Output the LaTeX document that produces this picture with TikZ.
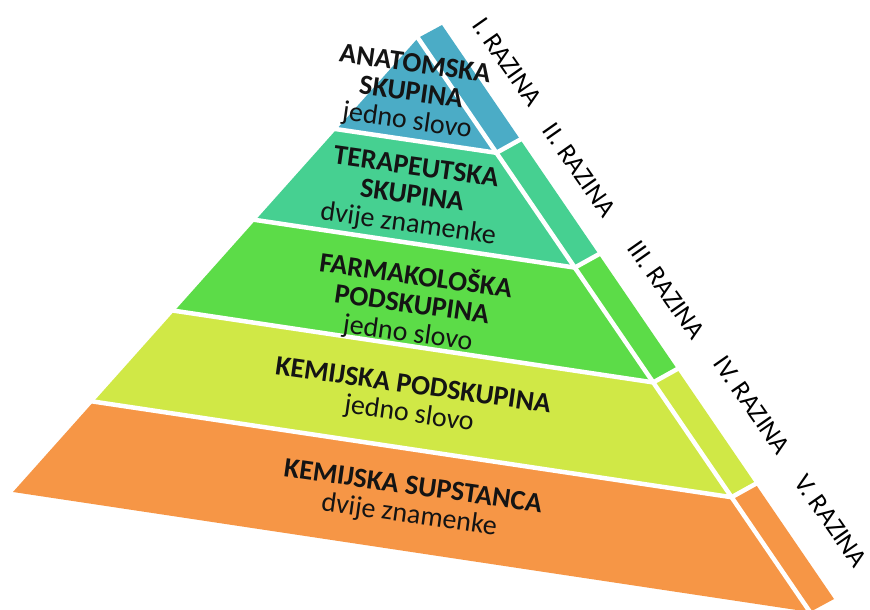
\documentclass[tikz,border=0pt]{standalone}
\usepackage{fontspec}
\setmainfont{Carlito}
\usetikzlibrary{calc}
\definecolor{cI}{RGB}{75,172,198}
\definecolor{cII}{RGB}{70,208,145}
\definecolor{cIII}{RGB}{92,220,72}
\definecolor{cIV}{RGB}{208,232,70}
\definecolor{cV}{RGB}{246,150,70}
\definecolor{txt}{RGB}{20,20,20}
\begin{document}
\begin{tikzpicture}[x=1pt,y=-1pt,
  gap/.style={white,line width=4.5pt,line cap=butt,line join=round},
  tier/.style={align=center,rotate=-8,inner sep=0pt,text=txt,
    font=\fontsize{28}{28.5}\selectfont},
  raz/.style={rotate=-55,inner sep=0pt,text=black,
    font=\fontsize{26.5}{27}\selectfont}]
\useasboundingbox (0,0) rectangle (870,610);
\fill[white] (0,0) rectangle (870,610);
% main corners
\coordinate (A) at (418,38);
\coordinate (BL) at (13,492);
\coordinate (BR) at (810,612);
\coordinate (v) at (24,-13);
% tier points
\foreach \k/\t in {0/0,1/0.2,2/0.4,3/0.6,4/0.8,5/1}{
  \coordinate (L\k) at ($(A)!\t!(BL)$);
  \coordinate (R\k) at ($(A)!\t!(BR)$);
  \coordinate (S\k) at ($(R\k)+(v)$);
}
% front faces
\fill[cI] (A) -- (R1) -- (L1) -- cycle;
\fill[cII] (L1) -- (R1) -- (R2) -- (L2) -- cycle;
\fill[cIII] (L2) -- (R2) -- (R3) -- (L3) -- cycle;
\fill[cIV] (L3) -- (R3) -- (R4) -- (L4) -- cycle;
\fill[cV] (L4) -- (R4) -- (R5) -- (L5) -- cycle;
% side strips
\fill[cI] (R0) -- (S0) -- (S1) -- (R1) -- cycle;
\fill[cII] (R1) -- (S1) -- (S2) -- (R2) -- cycle;
\fill[cIII] (R2) -- (S2) -- (S3) -- (R3) -- cycle;
\fill[cIV] (R3) -- (S3) -- (S4) -- (R4) -- cycle;
\fill[cV] (R4) -- (S4) -- (S5) -- (R5) -- cycle;
% white gaps
\foreach \k in {1,2,3,4}{
  \draw[gap] ($(L\k)+(-3,0)$) -- (R\k) -- ($(S\k)+(3,-2)$);
}
\draw[gap] ($(A)!-0.02!(BR)$) -- ($(A)!1.02!(BR)$);
% texts
\node[tier] (t1) at (411,94) {\textbf{ANATOMSKA}\\\textbf{SKUPINA}\\jedno slovo};
\node[tier] (t2) at (412,197) {\textbf{TERAPEUTSKA}\\\textbf{SKUPINA}\\dvije znamenke};
\node[tier] (t3) at (412,304) {\textbf{FARMAKOLOŠKA}\\\textbf{PODSKUPINA}\\jedno slovo};
\node[tier] (t4) at (411,401) {\textbf{KEMIJSKA PODSKUPINA}\\jedno slovo};
\node[tier] (t5) at (411,502) {\textbf{KEMIJSKA SUPSTANCA}\\dvije znamenke};
% level labels
\node[raz] (r1) at (507,62) {I. RAZINA};
\node[raz] (r2) at (579,170) {II. RAZINA};
\node[raz] (r3) at (666,290) {III. RAZINA};
\node[raz] (r4) at (752,405) {IV. RAZINA};
\node[raz] (r5) at (831,521) {V. RAZINA};
\end{tikzpicture}
\end{document}
